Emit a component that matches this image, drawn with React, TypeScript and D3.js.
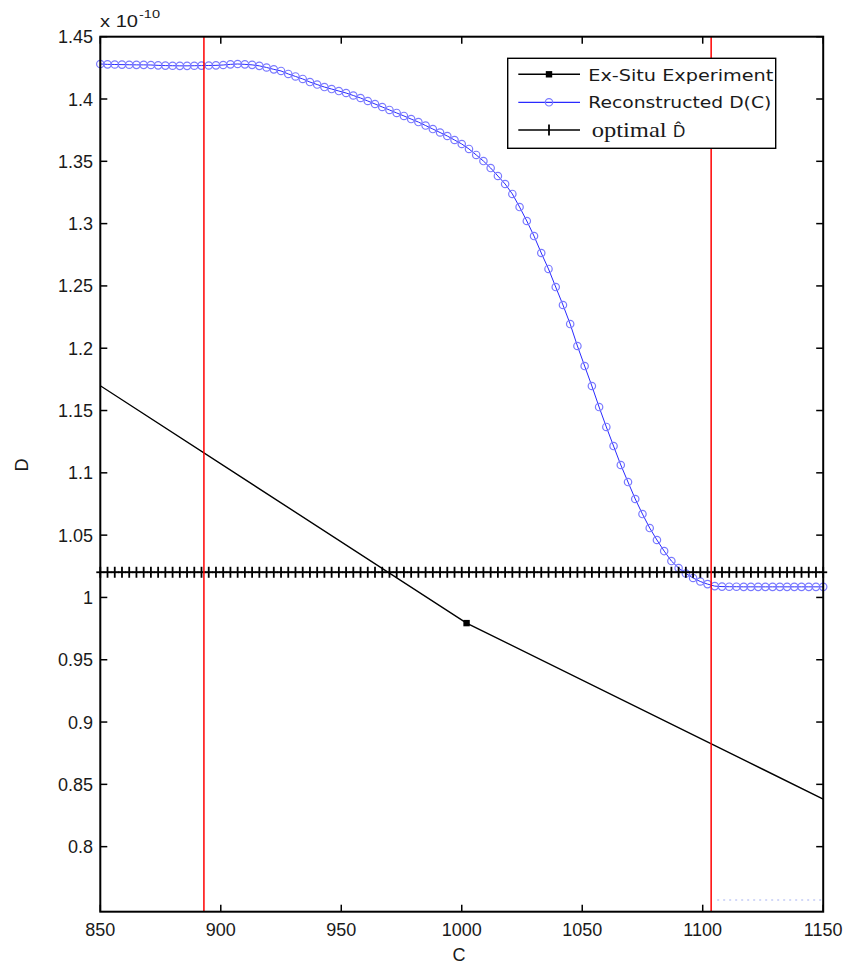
import React from 'react';
import * as d3 from 'd3';

// Concentration grid (C) of the reconstructed curve and of the optimal-D markers
const cGrid = [
  850, 853, 856, 859, 862, 865, 868, 871, 874, 877,
  880, 883, 886, 889, 892, 895, 898, 901, 904, 907,
  910, 913, 916, 919, 922, 925, 928, 931, 934, 937,
  940, 943, 946, 949, 952, 955, 958, 961, 964, 967,
  970, 973, 976, 979, 982, 985, 988, 991, 994, 997,
  1000, 1003, 1006, 1009, 1012, 1015, 1018, 1021, 1024, 1027,
  1030, 1033, 1036, 1039, 1042, 1045, 1048, 1051, 1054, 1057,
  1060, 1063, 1066, 1069, 1072, 1075, 1078, 1081, 1084, 1087,
  1090, 1093, 1096, 1099, 1102, 1105, 1108, 1111, 1114, 1117,
  1120, 1123, 1126, 1129, 1132, 1135, 1138, 1141, 1144, 1147,
  1150,
];

// Reconstructed D(C), in units of 1e-10
const reconstructedD = [
  1.4281, 1.4278, 1.4277, 1.4276, 1.4275, 1.4274, 1.4274, 1.4273, 1.4270, 1.4268,
  1.4267, 1.4266, 1.4266, 1.4267, 1.4268, 1.4269, 1.4270, 1.4273, 1.4278, 1.4281,
  1.4278, 1.4274, 1.4266, 1.4253, 1.4238, 1.4225,
  1.4201, 1.4181, 1.4161, 1.4136, 1.4116, 1.4096, 1.4080, 1.4064, 1.4048, 1.4028,
  1.4008, 1.3984, 1.3960, 1.3936, 1.3912, 1.3888, 1.3864, 1.3839, 1.3815, 1.3787,
  1.3759, 1.3731, 1.3703, 1.3671, 1.3639, 1.3599, 1.3551,
  1.3502, 1.3446, 1.3382, 1.3318, 1.3238, 1.3133, 1.3021, 1.2900, 1.2764, 1.2636,
  1.2491, 1.2347, 1.2194, 1.2018, 1.1857, 1.1697,
  1.1528, 1.1368, 1.1215, 1.1063, 1.0926, 1.0790, 1.0669, 1.0557, 1.0461, 1.0372,
  1.0292, 1.0236, 1.0192, 1.0156, 1.0128, 1.0107, 1.0091,
  1.0087, 1.0086, 1.0086, 1.0085, 1.0085, 1.0085, 1.0085, 1.0085, 1.0085, 1.0085,
  1.0085, 1.0085, 1.0085, 1.0085, 1.0085,
];

// Ex-situ experiment line
const exSituC = [850, 1002, 1150];
const exSituD = [1.1699, 0.9794, 0.8382];
const exSituMarkerC = [1002];
const exSituMarkerD = [0.9794];

// Optimal D-hat (constant)
const optimalD = 1.0202;

// Red vertical bounds
const boundsC = [893, 1103.5];

// Faint dotted trace at the bottom right
const faintC = [1106, 1150];
const faintD = [0.7571, 0.7571];

const xTicks = [850, 900, 950, 1000, 1050, 1100, 1150];
const yTicks = [0.8, 0.85, 0.9, 0.95, 1.0, 1.05, 1.1, 1.15, 1.2, 1.25, 1.3, 1.35, 1.4, 1.45];
const yTickLabels = ['0.8', '0.85', '0.9', '0.95', '1', '1.05', '1.1', '1.15', '1.2', '1.25', '1.3', '1.35', '1.4', '1.45'];

const legendLabels = ['Ex-Situ Experiment', 'Reconstructed D(C)', 'optimal'];

const W = 847;
const H = 968;
const L = 100.3;
const R = 823.2;
const T = 36.7;
const B = 911.7;

export default function App() {
  const x = d3.scaleLinear().domain([850, 1150]).range([L, R]);
  const y = d3.scaleLinear().domain([0.7478, 1.45]).range([B, T]);

  const lineGen = d3
    .line<[number, number]>()
    .x((d) => x(d[0]))
    .y((d) => y(d[1]));

  const recPts: [number, number][] = cGrid.map((c, i) => [c, reconstructedD[i]]);
  const exPts: [number, number][] = exSituC.map((c, i) => [c, exSituD[i]]);
  const optPts: [number, number][] = [[cGrid[0], optimalD], [cGrid[cGrid.length - 1], optimalD]];
  const faintPts: [number, number][] = faintC.map((c, i) => [c, faintD[i]]);

  const sans = '"Liberation Sans", Arial, Helvetica, sans-serif';
  const tk = 7;

  const legX = 507.7;
  const legY = 58.3;
  const legW = 268;
  const legH = 90;
  const rows = [74.3, 102.3, 130];
  const sx0 = 518.3;
  const sx1 = 580;
  const smid = 549;

  return (
    <svg
      width={W}
      height={H}
      viewBox={`0 0 ${W} ${H}`}
      style={{ position: 'absolute', left: 0, top: 0, background: '#fff' }}
    >
      <rect x={0} y={0} width={W} height={H} fill="#fff" />
      <defs>
        <clipPath id="plotclip">
          <rect x={L} y={T} width={R - L} height={B - T} />
        </clipPath>
      </defs>

      {/* Faint dotted trace */}
      <path d={lineGen(faintPts) || ''} fill="none" stroke="#c4ccf6" strokeWidth={1.5} strokeDasharray="2,4" />

      {/* Ex-situ experiment line */}
      <g clipPath="url(#plotclip)">
        <path d={lineGen(exPts) || ''} fill="none" stroke="#000" strokeWidth={1.4} />
      </g>
      {exSituMarkerC.map((c, i) => (
        <rect key={`exm${i}`} x={x(c) - 3.2} y={y(exSituMarkerD[i]) - 3.2} width={6.4} height={6.4} fill="#000" />
      ))}

      {/* Reconstructed D(C) */}
      <path d={lineGen(recPts) || ''} fill="none" stroke="#2a2aff" strokeWidth={1} />
      {recPts.map((p, i) => (
        <circle key={`rc${i}`} cx={x(p[0])} cy={y(p[1])} r={3.7} fill="none" stroke="#7a7aff" strokeWidth={1.2} />
      ))}

      {/* Optimal D-hat */}
      <path d={lineGen(optPts) || ''} fill="none" stroke="#000" strokeWidth={1.6} />
      {cGrid.map((c, i) => (
        <g key={`op${i}`} stroke="#000" strokeWidth={1.8}>
          <line x1={x(c)} x2={x(c)} y1={y(optimalD) - 5.5} y2={y(optimalD) + 5.5} />
          <line x1={x(c) - 4} x2={x(c) + 4} y1={y(optimalD)} y2={y(optimalD)} />
        </g>
      ))}

      {/* Red bounds */}
      {boundsC.map((c, i) => (
        <line key={`rb${i}`} x1={x(c)} x2={x(c)} y1={T} y2={B} stroke="#ff0000" strokeWidth={1.5} />
      ))}

      {/* Axes box */}
      <rect x={L} y={T} width={R - L} height={B - T} fill="none" stroke="#000" strokeWidth={2} />

      {/* X ticks */}
      {xTicks.map((t) => (
        <g key={`xt${t}`}>
          <line x1={x(t)} x2={x(t)} y1={B} y2={B - tk} stroke="#000" strokeWidth={1.5} />
          <line x1={x(t)} x2={x(t)} y1={T} y2={T + tk} stroke="#000" strokeWidth={1.5} />
          <text x={x(t)} y={936} textAnchor="middle" fontFamily={sans} fontSize={18} fill="#1a1a1a">
            {t}
          </text>
        </g>
      ))}

      {/* Y ticks */}
      {yTicks.map((t, i) => (
        <g key={`yt${i}`}>
          <line x1={L} x2={L + tk} y1={y(t)} y2={y(t)} stroke="#000" strokeWidth={1.5} />
          <line x1={R} x2={R - tk} y1={y(t)} y2={y(t)} stroke="#000" strokeWidth={1.5} />
          <text x={93} y={y(t) + 6.5} textAnchor="end" fontFamily={sans} fontSize={18} fill="#1a1a1a">
            {yTickLabels[i]}
          </text>
        </g>
      ))}

      {/* Exponent */}
      <text x={100} y={26.7} fontFamily={sans} fontSize={16} fill="#1a1a1a" textLength={38} lengthAdjust="spacingAndGlyphs">
        x 10
      </text>
      <text x={139} y={18} fontFamily={sans} fontSize={11.5} fill="#1a1a1a" textLength={21} lengthAdjust="spacingAndGlyphs">
        -10
      </text>

      {/* Axis labels */}
      <text x={459} y={961} textAnchor="middle" fontFamily={sans} fontSize={18} fill="#1a1a1a">
        C
      </text>
      <text
        transform="translate(28,465) rotate(-90)"
        textAnchor="middle"
        fontFamily={sans}
        fontSize={18}
        fill="#1a1a1a"
      >
        D
      </text>

      {/* Legend */}
      <rect x={legX} y={legY} width={legW} height={legH} fill="#fff" stroke="#000" strokeWidth={1.4} />
      <line x1={sx0} x2={sx1} y1={rows[0]} y2={rows[0]} stroke="#000" strokeWidth={1.4} />
      <rect x={smid - 3.2} y={rows[0] - 3.2} width={6.4} height={6.4} fill="#000" />
      <text
        x={588.3}
        y={80.6}
        fontFamily='"DejaVu Sans", Verdana, sans-serif'
        fontSize={16.5}
        fill="#1a1a1a"
        textLength={185}
        lengthAdjust="spacingAndGlyphs"
      >
        {legendLabels[0]}
      </text>
      <line x1={sx0} x2={sx1} y1={rows[1]} y2={rows[1]} stroke="#2a2aff" strokeWidth={1.2} />
      <circle cx={smid} cy={rows[1]} r={3.7} fill="none" stroke="#7a7aff" strokeWidth={1.2} />
      <text
        x={588.3}
        y={107.6}
        fontFamily='"DejaVu Sans", Verdana, sans-serif'
        fontSize={16.5}
        fill="#1a1a1a"
        textLength={183}
        lengthAdjust="spacingAndGlyphs"
      >
        {legendLabels[1]}
      </text>
      <line x1={sx0} x2={sx1} y1={rows[2]} y2={rows[2]} stroke="#000" strokeWidth={1.4} />
      <line x1={smid} x2={smid} y1={rows[2] - 5.5} y2={rows[2] + 5.5} stroke="#000" strokeWidth={1.8} />
      <text
        x={591.7}
        y={137.3}
        fontFamily='"Liberation Serif", "Times New Roman", serif'
        fontSize={22}
        fill="#1a1a1a"
        textLength={75}
        lengthAdjust="spacingAndGlyphs"
      >
        {legendLabels[2]}
      </text>
      <text x={673} y={137.3} fontFamily={sans} fontSize={17} fill="#1a1a1a">
        {'D\u0302'}
      </text>
    </svg>
  );
}
